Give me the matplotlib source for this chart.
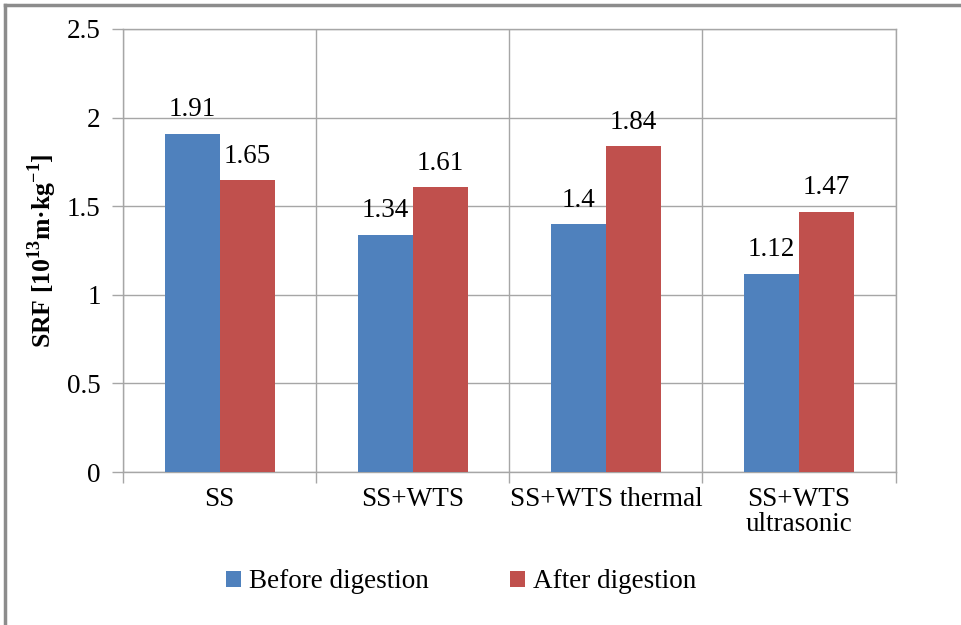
import numpy as np
import matplotlib
matplotlib.use("Agg")
import matplotlib.pyplot as plt
from matplotlib.lines import Line2D

plt.rcParams['font.family'] = ['Liberation Serif', 'DejaVu Serif']
plt.rcParams['mathtext.fontset'] = 'custom'
plt.rcParams['mathtext.rm'] = 'Liberation Serif'
plt.rcParams['mathtext.bf'] = 'Liberation Serif:bold'

categories = ['SS', 'SS+WTS', 'SS+WTS thermal', 'SS+WTS\nultrasonic']
before = [1.91, 1.34, 1.4, 1.12]
after = [1.65, 1.61, 1.84, 1.47]
series_names = ['Before digestion', 'After digestion']
colors = ['#4F81BD', '#C0504D']
grid_col = '#A6A6A6'
fs = 19.5

fig = plt.figure(figsize=(9.61, 6.25), dpi=100)
ax = fig.add_axes([0.128, 0.2448, 0.804, 0.7088])

x = np.arange(len(categories))
w = 0.285
b1 = ax.bar(x - w / 2, before, w, color=colors[0], label=series_names[0], zorder=3)
b2 = ax.bar(x + w / 2, after, w, color=colors[1], label=series_names[1], zorder=3)

for bars, vals in [(b1, before), (b2, after)]:
    for r, v in zip(bars, vals):
        ax.annotate(f'{v:g}', (r.get_x() + r.get_width() / 2, v), xytext=(0, 8),
                    textcoords='offset points', ha='center', va='bottom', fontsize=fs, zorder=4)

ax.set_xlim(-0.5, len(categories) - 0.5)
ax.set_ylim(0, 2.5)
ax.set_yticks(np.arange(0, 2.51, 0.5))
ax.set_yticklabels(['0', '0.5', '1', '1.5', '2', '2.5'])
ax.set_xticks(x)
ax.set_xticklabels(categories, linespacing=1.0)
ax.set_xticks(np.arange(-0.5, len(categories), 1), minor=True)
ax.tick_params(axis='x', which='major', length=0, pad=11, labelsize=fs)
ax.tick_params(axis='x', which='minor', length=8, color=grid_col, width=1)
ax.tick_params(axis='y', length=8, color=grid_col, width=1, pad=8, labelsize=fs)

ax.grid(axis='y', color=grid_col, lw=1, zorder=0)
ax.grid(axis='x', which='minor', color=grid_col, lw=1, zorder=0)
for s in ax.spines.values():
    s.set_color(grid_col)
    s.set_linewidth(1)

ax.set_ylabel(r'SRF [10$^{\mathbf{13}}$m·kg$^{\mathbf{-1}}$]', fontsize=18.5,
              fontweight='bold', labelpad=6)

ax.legend(loc='upper center', bbox_to_anchor=(0.438, -0.165), ncol=2, frameon=False,
          fontsize=fs, handlelength=0.55, handleheight=0.55, handletextpad=0.3,
          columnspacing=3.0)

# outer frame of the chart (left and top edges visible)
fig.add_artist(Line2D([5 / 961, 5 / 961], [0, 1 - 5 / 625], transform=fig.transFigure,
                      color='#8C8C8C', lw=2.5))
fig.add_artist(Line2D([5 / 961, 1], [1 - 5 / 625, 1 - 5 / 625], transform=fig.transFigure,
                      color='#8C8C8C', lw=2.5))

fig.savefig('out.png', dpi=100)
